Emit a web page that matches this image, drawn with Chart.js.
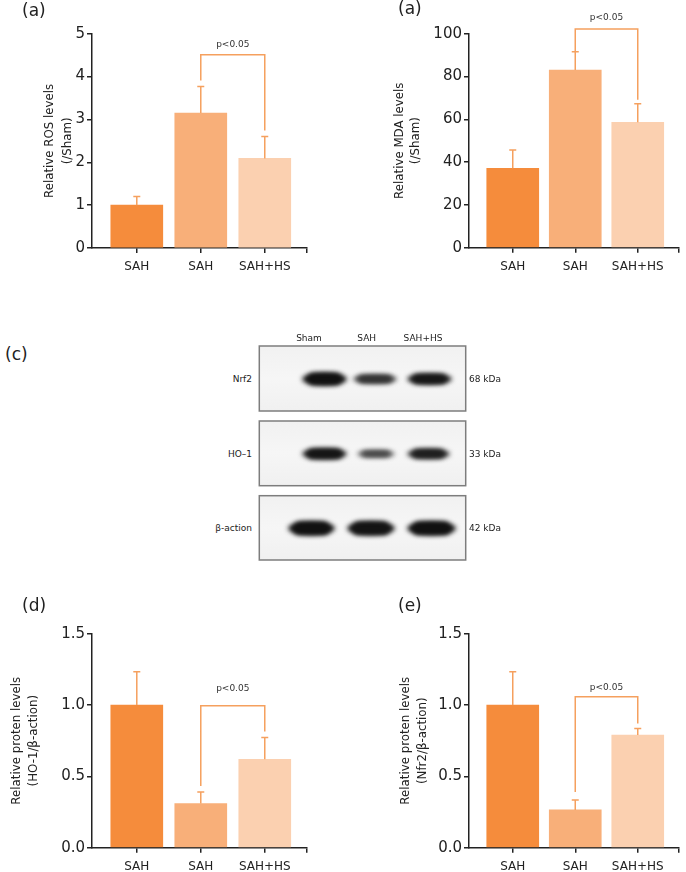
<!DOCTYPE html>
<html>
<head>
<meta charset="utf-8">
<script src="https://cdn.jsdelivr.net/npm/chart.js@4.4.0/dist/chart.umd.min.js"></script>
<style>
  body { margin: 0; width: 686px; height: 872px; position: relative; background: #fff; overflow: hidden;
         font-family: 'DejaVu Sans', Verdana, sans-serif; color: #222; }
  canvas { position: absolute; }
  .panel { position: absolute; font-size: 17px; line-height: 17px; }
  .blot { position: absolute; font-size: 9px; line-height: 10px; white-space: nowrap; }
</style>
</head>
<body>
<canvas id="rosChart" width="343" height="290" style="left:0;top:0"></canvas>
<canvas id="mdaChart" width="343" height="290" style="left:343px;top:0"></canvas>
<canvas id="blotCanvas" width="215" height="225" style="left:255px;top:340px"></canvas>
<canvas id="ho1Chart" width="343" height="282" style="left:0;top:590px"></canvas>
<canvas id="nrf2Chart" width="343" height="282" style="left:343px;top:590px"></canvas>

<div class="panel" style="left:22px;top:2px">(a)</div>
<div class="panel" style="left:398px;top:0">(a)</div>
<div class="panel" style="left:5px;top:346px">(c)</div>
<div class="panel" style="left:22px;top:597px">(d)</div>
<div class="panel" style="left:398px;top:597px">(e)</div>
<div id="blotText"></div>

<script>
// groups on the x axis
const groups = ['SAH', 'SAH', 'SAH+HS'];

// (a) ROS
const rosMean = [1.0, 3.15, 2.09];
const rosSd = [0.2, 0.62, 0.51];
const rosTicks = [0, 1, 2, 3, 4, 5];

// (a) MDA
const mdaMean = [37.1, 83.0, 58.6];
const mdaSd = [8.5, 8.6, 8.7];
const mdaTicks = [0, 20, 40, 60, 80, 100];

// (d) HO-1 / β-action
const ho1Mean = [1.0, 0.31, 0.62];
const ho1Sd = [0.234, 0.08, 0.152];

// (e) Nrf2 / β-action
const nrf2Mean = [1.0, 0.265, 0.79];
const nrf2Sd = [0.234, 0.07, 0.045];
const ratioTicks = [0, 0.5, 1.0, 1.5];

// significance brackets (SAH vs SAH+HS), height in axis units
const pLabel = 'p<0.05';
const rosBracket = 4.51;
const mdaBracket = 102.2;
const ho1Bracket = 0.995;
const nrf2Bracket = 1.058;

// western blot labels
const lanes = ['Sham', 'SAH', 'SAH+HS'];
const blotRows = ['Nrf2', 'HO\u20131', '\u03b2-action'];
const blotKda = ['68 kDa', '33 kDa', '42 kDa'];

const barColors = ['#F58C3C', '#F8AF79', '#FBD0B0'];
const errColor = '#F5A05E';
const axisColor = '#222';

Chart.defaults.font.family = "'DejaVu Sans', Verdana, sans-serif";
Chart.defaults.color = axisColor;

function errorPlugin(cfg) {
    return {
        id: 'errors_' + cfg.id,
        afterDatasetsDraw(chart) {
            const { ctx, scales: { x, y } } = chart;
            ctx.save();
            ctx.strokeStyle = errColor;
            ctx.lineWidth = 1.5;
            cfg.mean.forEach((m, i) => {
                const px = x.getPixelForValue(i);
                const y0 = y.getPixelForValue(m);
                const y1 = y.getPixelForValue(m + cfg.sd[i]);
                ctx.beginPath();
                ctx.moveTo(px, y0);
                ctx.lineTo(px, y1);
                ctx.moveTo(px - 3.5, y1);
                ctx.lineTo(px + 3.5, y1);
                ctx.stroke();
            });
            // bracket between bar 1 and bar 2
            const xa = x.getPixelForValue(1), xb = x.getPixelForValue(2);
            const yt = y.getPixelForValue(cfg.bracket);
            const ya = y.getPixelForValue(cfg.mean[1] + cfg.sd[1]) - cfg.gap[0];
            const yb = y.getPixelForValue(cfg.mean[2] + cfg.sd[2]) - cfg.gap[1];
            ctx.beginPath();
            ctx.moveTo(xa, ya);
            ctx.lineTo(xa, yt);
            ctx.lineTo(xb, yt);
            ctx.lineTo(xb, yb);
            ctx.stroke();
            ctx.fillStyle = '#333';
            ctx.font = "9px 'DejaVu Sans'";
            ctx.textAlign = 'center';
            ctx.textBaseline = 'middle';
            ctx.fillText(pLabel, (xa + xb) / 2, yt - cfg.pOffset);
            ctx.restore();
        }
    };
}

function barChart(cfg) {
    const canvas = document.getElementById(cfg.id);
    const W = canvas.width, H = canvas.height;
    const [left, right, top, bottom] = cfg.area;
    const yLeft = cfg.titleX - cfg.titleGap / 2;
    const ticks = cfg.ticks;
    return new Chart(canvas, {
        type: 'bar',
        data: {
            datasets: [{
                data: cfg.mean.map((v, i) => ({ x: i, y: v })),
                backgroundColor: barColors,
                barThickness: 52
            }]
        },
        options: {
            responsive: false,
            animation: false,
            layout: { padding: { left: yLeft, right: W - right, top: top, bottom: 0 } },
            plugins: { legend: { display: false }, tooltip: { enabled: false } },
            scales: {
                x: {
                    type: 'linear',
                    min: -0.7,
                    max: 2.66,
                    offset: false,
                    afterBuildTicks: s => { s.ticks = [0, 1, 2, 2.66].map(v => ({ value: v })); },
                    afterFit: s => { s.height = H - bottom; },
                    ticks: {
                        autoSkip: false,
                        maxRotation: 0,
                        padding: 7,
                        font: { size: 12 },
                        callback: (v, i) => groups[i] ?? ''
                    },
                    grid: { display: true, offset: false, drawOnChartArea: false, drawTicks: true, tickLength: 5, color: axisColor, lineWidth: 1.5 },
                    border: { display: true, color: axisColor, width: 1.5 }
                },
                y: {
                    min: ticks[0],
                    max: ticks[ticks.length - 1],
                    afterFit: s => { s.width = left - yLeft; },
                    ticks: {
                        stepSize: ticks[1] - ticks[0],
                        padding: 2,
                        font: { size: 15 },
                        callback: v => v.toFixed(cfg.decimals)
                    },
                    grid: { display: true, drawOnChartArea: false, drawTicks: true, tickLength: 5, color: axisColor, lineWidth: 1.5 },
                    border: { display: true, color: axisColor, width: 1.5 },
                    title: {
                        display: true,
                        text: cfg.title,
                        padding: 0,
                        font: { size: 11.8, lineHeight: cfg.titleGap / 11.8 }
                    }
                }
            }
        },
        plugins: [errorPlugin(cfg)]
    });
}

barChart({
    id: 'rosChart', mean: rosMean, sd: rosSd, ticks: rosTicks, decimals: 0, bracket: rosBracket,
    title: ['Relative ROS levels', '(/Sham)'], titleX: 49.7, titleGap: 18.6,
    area: [92, 307, 33.7, 248], gap: [6, 6], pOffset: 10
});
barChart({
    id: 'mdaChart', mean: mdaMean, sd: mdaSd, ticks: mdaTicks, decimals: 0, bracket: mdaBracket,
    title: ['Relative MDA levels', '(/Sham)'], titleX: 56.7, titleGap: 16.6,
    area: [126, 342, 33.7, 247.7], gap: [0, 4], pOffset: 11
});
barChart({
    id: 'ho1Chart', mean: ho1Mean, sd: ho1Sd, ticks: ratioTicks, decimals: 1, bracket: ho1Bracket,
    title: ['Relative proten levels', '(HO-1/\u03b2-action)'], titleX: 16.7, titleGap: 17.1,
    area: [92, 307, 43.7, 257.7], gap: [6, 6], pOffset: 17.5
});
barChart({
    id: 'nrf2Chart', mean: nrf2Mean, sd: nrf2Sd, ticks: ratioTicks, decimals: 1, bracket: nrf2Bracket,
    title: ['Relative proten levels', '(Nfr2/\u03b2-action)'], titleX: 63, titleGap: 16.5,
    area: [126, 342, 43.7, 257.7], gap: [8, 5], pOffset: 9
});

// (c) western blot, drawn in page coordinates shifted by the canvas offset
const blot = document.getElementById('blotCanvas').getContext('2d');
const ox = 255, oy = 340;
const rowBoxes = [[346, 411], [421, 485.7], [495.7, 560]];
const bandShapes = [
    [[302, 347, 12, '#111111'], [353, 397, 8, '#333333'], [407, 452, 10, '#171717']],
    [[302, 347, 10, '#151515'], [357, 395, 6, '#444444'], [407, 450, 9, '#1e1e1e']],
    [[288, 335, 13, '#111111'], [347, 395, 13, '#141414'], [407, 456, 13, '#111111']]
];
rowBoxes.forEach(([y0, y1], r) => {
    const g = blot.createLinearGradient(0, y0 - oy, 0, y1 - oy);
    g.addColorStop(0, '#f1f1f1');
    g.addColorStop(0.5, '#f6f6f6');
    g.addColorStop(1, '#f0f0f0');
    blot.fillStyle = g;
    blot.fillRect(259.3 - ox, y0 - oy, 206.4, y1 - y0);
    const yc = (y0 + y1) / 2 + 0.5;
    blot.save();
    blot.filter = 'blur(2.5px)';
    bandShapes[r].forEach(([x0, x1, h, col]) => {
        blot.fillStyle = col;
        blot.beginPath();
        blot.ellipse((x0 + x1) / 2 - ox, yc - oy, (x1 - x0) / 2, h / 2, 0, 0, Math.PI * 2);
        blot.fill();
        blot.beginPath();
        blot.roundRect(x0 + 5 - ox, yc - h / 2 - oy, x1 - x0 - 10, h, h / 2);
        blot.fill();
    });
    blot.restore();
    blot.strokeStyle = '#7d7d7d';
    blot.lineWidth = 1.5;
    blot.strokeRect(259.3 - ox, y0 - oy, 206.4, y1 - y0);
});

const blotText = document.getElementById('blotText');
function addText(txt, style) {
    const d = document.createElement('div');
    d.className = 'blot';
    d.textContent = txt;
    d.setAttribute('style', style);
    blotText.appendChild(d);
}
[309, 366.7, 423].forEach((cx, i) => addText(lanes[i], `left:${cx - 40}px;width:80px;text-align:center;top:333px`));
rowBoxes.forEach(([y0, y1], i) => {
    const yc = (y0 + y1) / 2 - 4.5;
    addText(blotRows[i], `left:172px;width:80px;text-align:right;top:${yc}px`);
    addText(blotKda[i], `left:469px;top:${yc}px`);
});
</script>
</body>
</html>
